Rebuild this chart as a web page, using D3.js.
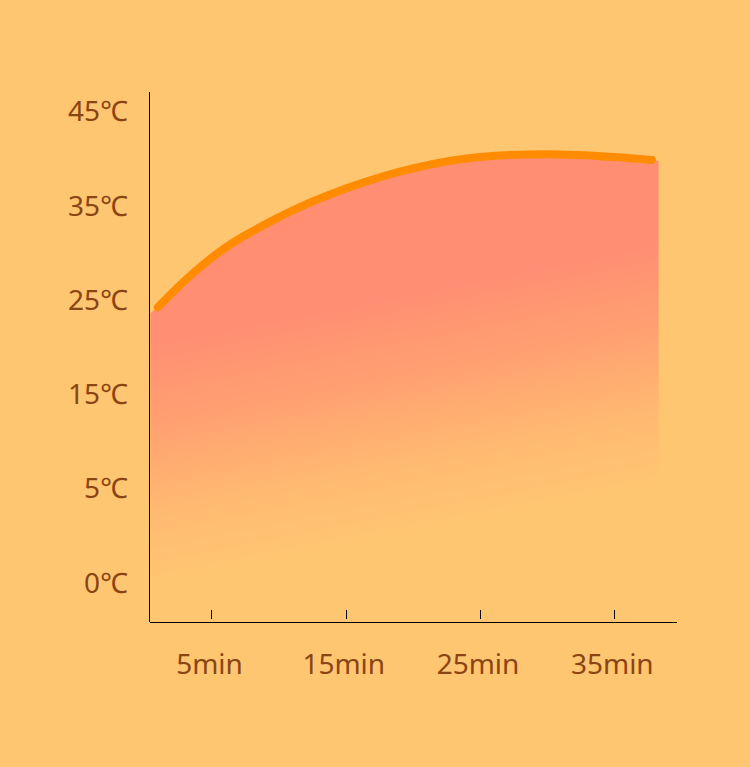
<!DOCTYPE html>
<html>
<head>
<meta charset="utf-8">
<script src="https://cdn.jsdelivr.net/npm/d3@7"></script>
<style>
  html, body { margin: 0; padding: 0; background: #ffc672; }
  svg { display: block; }
  .lbl { font-family: "Noto Sans", sans-serif; font-size: 28px; fill: #8b4513; }
</style>
</head>
<body>
<svg id="chart"></svg>
<script>
// dados
const tempos = [1, 2.5, 5, 10, 15, 20, 25, 30, 35, 37.8];
const temperaturas = [24.2, 26.35, 29.45, 33.75, 36.8, 38.95, 40.15, 40.45, 40.15, 39.83];
const ticksY = [0, 5, 15, 25, 35, 45];
const ticksX = [5, 15, 25, 35];
// limites da área preenchida (min)
const areaInicio = 0.45;
const areaFim = 38.3;

const width = 750, height = 767;
const svg = d3.select("#chart").attr("width", width).attr("height", height);

// escalas
const x = d3.scaleLinear().domain([0.42, 39.67]).range([150, 677]);
// eixo y não linear: rótulos igualmente espaçados
const y = d3.scaleLinear()
  .domain(ticksY)
  .range(ticksY.map((d, i) => 582.5 - i * 94.25));
const baseY = 622;

const pontos = tempos.map((t, i) => ({ t: t, v: temperaturas[i] }));
const pontosArea = [{ t: areaInicio, v: temperaturas[0] - 0.6 }, ...pontos,
  { t: areaFim, v: temperaturas[temperaturas.length - 1] - 0.1 }];

// gradiente (inclinado: lado direito clareia mais cedo)
const defs = svg.append("defs");
const grad = defs.append("linearGradient")
  .attr("id", "grad")
  .attr("gradientUnits", "userSpaceOnUse")
  .attr("x1", 150).attr("y1", 340)
  .attr("x2", 196).attr("y2", 575);
grad.append("stop").attr("offset", "0").attr("stop-color", "#ff8e73");
grad.append("stop").attr("offset", "0.35").attr("stop-color", "#ffa071");
grad.append("stop").attr("offset", "0.7").attr("stop-color", "#ffb971");
grad.append("stop").attr("offset", "1").attr("stop-color", "#ffc672");

// área
const area = d3.area()
  .x(d => x(d.t))
  .y0(baseY)
  .y1(d => y(d.v))
  .curve(d3.curveMonotoneX);

svg.append("path")
  .datum(pontosArea)
  .attr("d", area)
  .attr("fill", "url(#grad)");

// linha
const linha = d3.line()
  .x(d => x(d.t))
  .y(d => y(d.v))
  .curve(d3.curveMonotoneX);

svg.append("path")
  .datum(pontos)
  .attr("d", linha)
  .attr("fill", "none")
  .attr("stroke", "#ff8c00")
  .attr("stroke-width", 8)
  .attr("stroke-linecap", "round");

// eixos
svg.append("line")
  .attr("x1", 149.5).attr("x2", 149.5)
  .attr("y1", 92).attr("y2", baseY)
  .attr("stroke", "#000").attr("stroke-width", 1);

svg.append("line")
  .attr("x1", 150).attr("x2", 677)
  .attr("y1", baseY + 0.5).attr("y2", baseY + 0.5)
  .attr("stroke", "#000").attr("stroke-width", 1);

svg.selectAll(".tick-x")
  .data(ticksX)
  .enter()
  .append("line")
  .attr("class", "tick-x")
  .attr("x1", d => Math.round(x(d)) + 0.5)
  .attr("x2", d => Math.round(x(d)) + 0.5)
  .attr("y1", 610).attr("y2", 619)
  .attr("stroke", "#000").attr("stroke-width", 1);

svg.selectAll(".lbl-x")
  .data(ticksX)
  .enter()
  .append("text")
  .attr("class", "lbl")
  .attr("x", d => x(d) - 2)
  .attr("y", 674)
  .attr("text-anchor", "middle")
  .text(d => d + "min");

svg.selectAll(".lbl-y")
  .data(ticksY)
  .enter()
  .append("text")
  .attr("class", "lbl")
  .attr("x", 128)
  .attr("y", d => y(d) + 10)
  .attr("text-anchor", "end")
  .text(d => d + "℃");
</script>
</body>
</html>
